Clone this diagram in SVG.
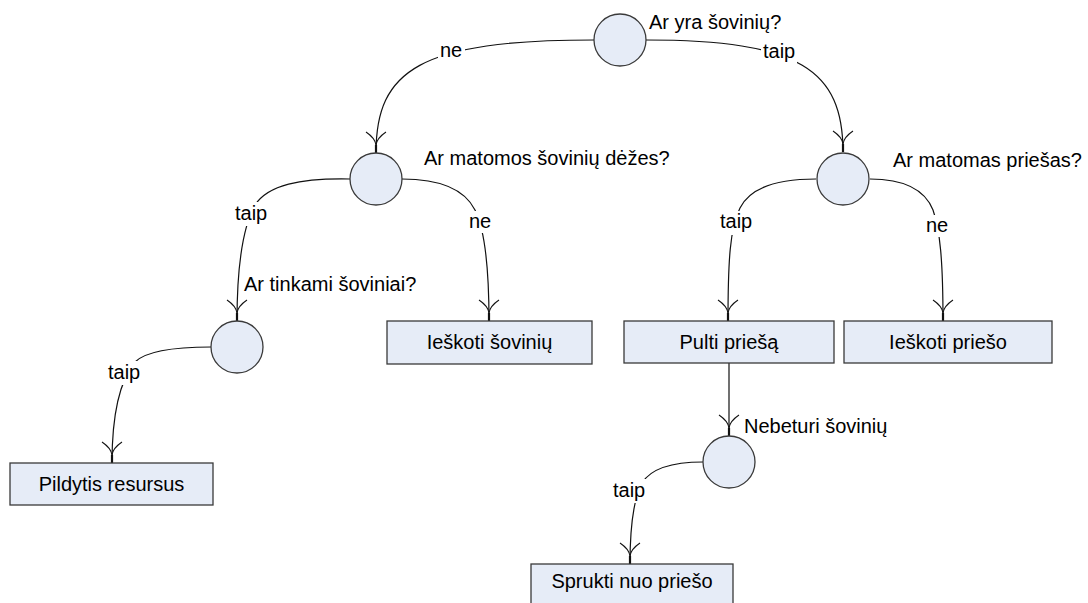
<svg xmlns="http://www.w3.org/2000/svg" width="1088" height="603" viewBox="0 0 1088 603">
  <style>
    .dec { fill: #E6ECF7; stroke: #3a3a3a; stroke-width: 1.3; }
    .act { fill: #E6ECF7; stroke: #3a3a3a; stroke-width: 1.3; }
    .lbl { font-family: "Liberation Sans", Arial, sans-serif; font-size: 20px; fill: #000; }
    .mid { text-anchor: middle; }
    .wire { fill: none; stroke: #111; stroke-width: 1.2; marker-end: url(#arrow); }
    .bg { fill: #fff; stroke: none; }
  </style>
  <defs>
    <marker id="arrow" markerUnits="userSpaceOnUse" markerWidth="32" markerHeight="30" viewBox="-30 -15 32 30" refX="0" refY="0" orient="auto" overflow="visible">
      <path d="M-8,0 Q-15,-1 -21,-10 M-8,0 Q-15,1 -21,10" fill="none" stroke="#111" stroke-width="1.1"/>
      <path d="M-8,0 L0,0" stroke="#111" stroke-width="2.2"/>
    </marker>
  </defs>
  <rect width="1088" height="603" fill="#fff"/>

  <!-- connectors with their branch labels -->
  <g id="connectors">
    <path class="wire" d="M594,40 C420,40 376,70 376,153"/>
    <path class="wire" d="M646,40 C800,40 843,70 843,152"/>
    <path class="wire" d="M350,179 C300,178 268,185 255,205 C244,225 237,260 237,321"/>
    <path class="wire" d="M402,179 C440,179 465,190 475,210 C484,228 489,260 489,321"/>
    <path class="wire" d="M816,179 C775,179 750,188 740,208 C730,228 728,260 728,321"/>
    <path class="wire" d="M870,179 C905,179 925,190 933,210 C940,230 943,260 943,321"/>
    <path class="wire" d="M211,347 C170,347 145,352 135,362 C122,378 112,410 112,463"/>
    <path class="wire" d="M729,363 L729,436"/>
    <path class="wire" d="M703,462 C670,462 650,470 642,483 C633,500 630,530 630,564"/>

    <rect class="bg" x="438" y="40" width="27" height="22"/>
    <text class="lbl" x="440" y="57">ne</text>
    <rect class="bg" x="761" y="41" width="36" height="24"/>
    <text class="lbl" x="763" y="58">taip</text>
    <rect class="bg" x="233" y="202" width="38" height="24"/>
    <text class="lbl" x="235" y="220">taip</text>
    <rect class="bg" x="467" y="211" width="27" height="22"/>
    <text class="lbl" x="469" y="228">ne</text>
    <rect class="bg" x="718" y="211" width="38" height="24"/>
    <text class="lbl" x="720" y="228">taip</text>
    <rect class="bg" x="924" y="215" width="27" height="22"/>
    <text class="lbl" x="926" y="232">ne</text>
    <rect class="bg" x="106" y="361" width="38" height="24"/>
    <text class="lbl" x="108" y="379">taip</text>
    <rect class="bg" x="611" y="479" width="38" height="24"/>
    <text class="lbl" x="613" y="497">taip</text>
  </g>

  <!-- decision nodes -->
  <g id="q-ammo">
    <circle class="dec" cx="620" cy="40" r="26"/>
    <text class="lbl" x="649" y="29">Ar yra šovinių?</text>
  </g>
  <g id="q-boxes">
    <circle class="dec" cx="376" cy="179" r="26"/>
    <text class="lbl" x="424" y="165">Ar matomos šovinių dėžes?</text>
  </g>
  <g id="q-enemy">
    <circle class="dec" cx="843" cy="179" r="26"/>
    <text class="lbl" x="893" y="167">Ar matomas priešas?</text>
  </g>
  <g id="q-suitable">
    <circle class="dec" cx="237" cy="347" r="26"/>
    <text class="lbl" x="244" y="291">Ar tinkami šoviniai?</text>
  </g>
  <g id="q-out">
    <circle class="dec" cx="729" cy="462" r="26"/>
    <text class="lbl" x="744" y="433">Nebeturi šovinių</text>
  </g>

  <!-- action nodes -->
  <g id="a-refill">
    <rect class="act" x="10" y="463" width="203" height="42"/>
    <text class="lbl mid" x="111.5" y="491">Pildytis resursus</text>
  </g>
  <g id="a-seek-ammo">
    <rect class="act" x="387" y="321" width="205" height="43"/>
    <text class="lbl mid" x="489.5" y="349">Ieškoti šovinių</text>
  </g>
  <g id="a-attack">
    <rect class="act" x="624" y="321" width="210" height="42"/>
    <text class="lbl mid" x="729" y="349">Pulti priešą</text>
  </g>
  <g id="a-seek-enemy">
    <rect class="act" x="844" y="321" width="208" height="42"/>
    <text class="lbl mid" x="948" y="349">Ieškoti priešo</text>
  </g>
  <g id="a-flee">
    <rect class="act" x="531" y="564" width="202" height="42"/>
    <text class="lbl mid" x="632" y="588">Sprukti nuo priešo</text>
  </g>
</svg>
